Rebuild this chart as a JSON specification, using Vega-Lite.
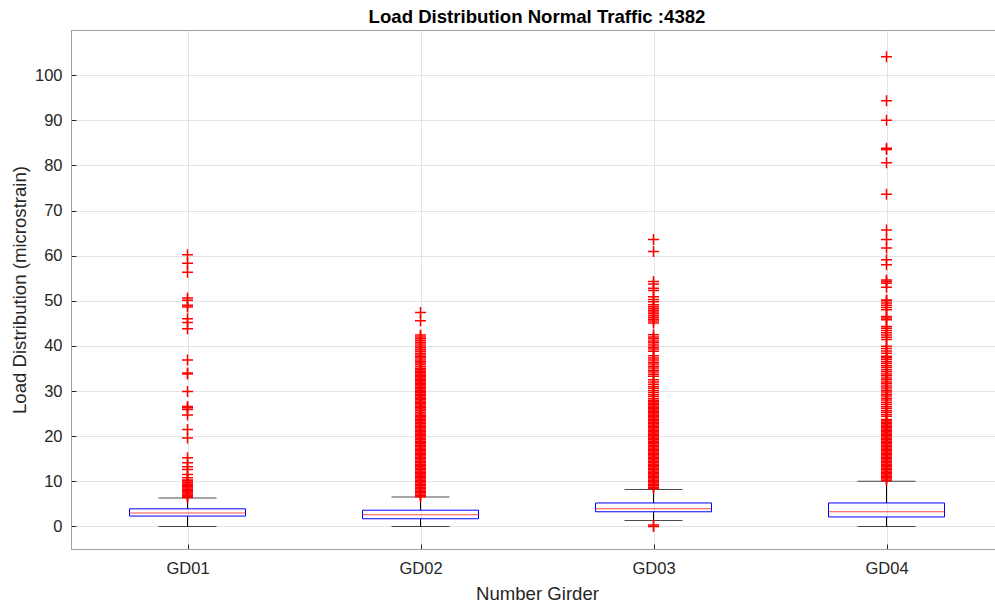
{
  "$schema": "https://vega.github.io/schema/vega-lite/v6.json",
  "autosize": "none",
  "width": 932,
  "height": 519,
  "padding": {"left": 71, "top": 30, "right": 0, "bottom": 55},
  "background": "white",
  "title": {"text": "Load Distribution Normal Traffic :4382", "fontSize": 18.6, "font": "Liberation Sans", "fontWeight": "bold", "color": "#000000", "anchor": "middle", "offset": 3},
  "config": {
    "view": {"stroke": "#a0a0a0", "strokeWidth": 1},
    "axis": {"labelFont": "Liberation Sans", "titleFont": "Liberation Sans", "labelColor": "#262626", "titleColor": "#262626", "labelFontSize": 16.5, "titleFontSize": 18.6, "titleFontWeight": "normal", "gridColor": "#e3e3e3", "gridWidth": 1, "domainColor": "#a0a0a0", "tickColor": "#262626", "tickSize": -5}
  },
  "datasets": {
    "boxes": [
      {"girder": "GD01", "low": 0.0, "q1": 2.3, "median": 3.0, "q3": 3.9, "high": 6.3},
      {"girder": "GD02", "low": 0.0, "q1": 1.7, "median": 2.6, "q3": 3.6, "high": 6.5},
      {"girder": "GD03", "low": 1.3, "q1": 3.25, "median": 3.9, "q3": 5.2, "high": 8.2},
      {"girder": "GD04", "low": 0.0, "q1": 2.1, "median": 3.25, "q3": 5.2, "high": 10.0}
    ],
    "outliers": [
      {"girder": "GD01", "value": 6.4}, {"girder": "GD01", "value": 6.6}, {"girder": "GD01", "value": 6.9}, {"girder": "GD01", "value": 7.2}, {"girder": "GD01", "value": 7.4}, {"girder": "GD01", "value": 7.7}, {"girder": "GD01", "value": 8.0}, {"girder": "GD01", "value": 8.2}, {"girder": "GD01", "value": 8.5}, {"girder": "GD01", "value": 8.8}, {"girder": "GD01", "value": 9.0}, {"girder": "GD01", "value": 9.3}, {"girder": "GD01", "value": 9.6}, {"girder": "GD01", "value": 9.8}, {"girder": "GD01", "value": 10.1}, {"girder": "GD01", "value": 10.3},
      {"girder": "GD01", "value": 10.8}, {"girder": "GD01", "value": 11.5}, {"girder": "GD01", "value": 12.6}, {"girder": "GD01", "value": 13.2}, {"girder": "GD01", "value": 14.1}, {"girder": "GD01", "value": 15.2}, {"girder": "GD01", "value": 19.6}, {"girder": "GD01", "value": 21.5}, {"girder": "GD01", "value": 24.7}, {"girder": "GD01", "value": 25.9}, {"girder": "GD01", "value": 26.3}, {"girder": "GD01", "value": 26.6}, {"girder": "GD01", "value": 29.9}, {"girder": "GD01", "value": 33.8}, {"girder": "GD01", "value": 34.0}, {"girder": "GD01", "value": 36.9}, {"girder": "GD01", "value": 43.8}, {"girder": "GD01", "value": 45.2}, {"girder": "GD01", "value": 46.0}, {"girder": "GD01", "value": 48.6}, {"girder": "GD01", "value": 49.0}, {"girder": "GD01", "value": 50.1}, {"girder": "GD01", "value": 50.6}, {"girder": "GD01", "value": 56.3}, {"girder": "GD01", "value": 58.3}, {"girder": "GD01", "value": 60.2},

      {"girder": "GD02", "value": 6.6}, {"girder": "GD02", "value": 6.9}, {"girder": "GD02", "value": 7.2}, {"girder": "GD02", "value": 7.5}, {"girder": "GD02", "value": 7.8}, {"girder": "GD02", "value": 8.1}, {"girder": "GD02", "value": 8.4}, {"girder": "GD02", "value": 8.7}, {"girder": "GD02", "value": 9.0}, {"girder": "GD02", "value": 9.3}, {"girder": "GD02", "value": 9.6}, {"girder": "GD02", "value": 9.9}, {"girder": "GD02", "value": 10.2}, {"girder": "GD02", "value": 10.5}, {"girder": "GD02", "value": 10.8}, {"girder": "GD02", "value": 11.1}, {"girder": "GD02", "value": 11.4}, {"girder": "GD02", "value": 11.7}, {"girder": "GD02", "value": 12.0}, {"girder": "GD02", "value": 12.3}, {"girder": "GD02", "value": 12.6}, {"girder": "GD02", "value": 12.9}, {"girder": "GD02", "value": 13.2}, {"girder": "GD02", "value": 13.5}, {"girder": "GD02", "value": 13.8}, {"girder": "GD02", "value": 14.1}, {"girder": "GD02", "value": 14.4}, {"girder": "GD02", "value": 14.7}, {"girder": "GD02", "value": 15.0}, {"girder": "GD02", "value": 15.3}, {"girder": "GD02", "value": 15.6}, {"girder": "GD02", "value": 15.9}, {"girder": "GD02", "value": 16.2}, {"girder": "GD02", "value": 16.5}, {"girder": "GD02", "value": 16.8}, {"girder": "GD02", "value": 17.1}, {"girder": "GD02", "value": 17.4}, {"girder": "GD02", "value": 17.7}, {"girder": "GD02", "value": 18.0}, {"girder": "GD02", "value": 18.3}, {"girder": "GD02", "value": 18.6}, {"girder": "GD02", "value": 18.9}, {"girder": "GD02", "value": 19.2}, {"girder": "GD02", "value": 19.5}, {"girder": "GD02", "value": 19.8}, {"girder": "GD02", "value": 20.1}, {"girder": "GD02", "value": 20.4}, {"girder": "GD02", "value": 20.7}, {"girder": "GD02", "value": 21.0}, {"girder": "GD02", "value": 21.3}, {"girder": "GD02", "value": 21.6}, {"girder": "GD02", "value": 21.9}, {"girder": "GD02", "value": 22.2}, {"girder": "GD02", "value": 22.5}, {"girder": "GD02", "value": 22.8}, {"girder": "GD02", "value": 23.1}, {"girder": "GD02", "value": 23.4}, {"girder": "GD02", "value": 23.7}, {"girder": "GD02", "value": 24.0}, {"girder": "GD02", "value": 24.3}, {"girder": "GD02", "value": 24.6}, {"girder": "GD02", "value": 24.9}, {"girder": "GD02", "value": 25.3}, {"girder": "GD02", "value": 25.7}, {"girder": "GD02", "value": 26.0}, {"girder": "GD02", "value": 26.3}, {"girder": "GD02", "value": 26.6}, {"girder": "GD02", "value": 26.9}, {"girder": "GD02", "value": 27.2}, {"girder": "GD02", "value": 27.5}, {"girder": "GD02", "value": 27.8}, {"girder": "GD02", "value": 28.1}, {"girder": "GD02", "value": 28.4}, {"girder": "GD02", "value": 28.7}, {"girder": "GD02", "value": 29.0}, {"girder": "GD02", "value": 29.3}, {"girder": "GD02", "value": 29.6}, {"girder": "GD02", "value": 29.9}, {"girder": "GD02", "value": 30.2}, {"girder": "GD02", "value": 30.5}, {"girder": "GD02", "value": 30.8}, {"girder": "GD02", "value": 31.1}, {"girder": "GD02", "value": 31.4}, {"girder": "GD02", "value": 31.7}, {"girder": "GD02", "value": 32.0}, {"girder": "GD02", "value": 32.3}, {"girder": "GD02", "value": 32.6}, {"girder": "GD02", "value": 32.9}, {"girder": "GD02", "value": 33.2}, {"girder": "GD02", "value": 33.5}, {"girder": "GD02", "value": 33.8}, {"girder": "GD02", "value": 34.1}, {"girder": "GD02", "value": 34.4}, {"girder": "GD02", "value": 34.7}, {"girder": "GD02", "value": 35.0}, {"girder": "GD02", "value": 35.4}, {"girder": "GD02", "value": 35.8}, {"girder": "GD02", "value": 36.2}, {"girder": "GD02", "value": 36.5}, {"girder": "GD02", "value": 36.9}, {"girder": "GD02", "value": 37.3}, {"girder": "GD02", "value": 37.6}, {"girder": "GD02", "value": 38.0}, {"girder": "GD02", "value": 38.4}, {"girder": "GD02", "value": 38.8}, {"girder": "GD02", "value": 39.2}, {"girder": "GD02", "value": 39.6}, {"girder": "GD02", "value": 40.0}, {"girder": "GD02", "value": 40.4}, {"girder": "GD02", "value": 40.8}, {"girder": "GD02", "value": 41.2}, {"girder": "GD02", "value": 41.6}, {"girder": "GD02", "value": 42.0}, {"girder": "GD02", "value": 42.4}, {"girder": "GD02", "value": 45.6}, {"girder": "GD02", "value": 47.4},

      {"girder": "GD03", "value": 0.0}, {"girder": "GD03", "value": 0.3},
      {"girder": "GD03", "value": 8.4}, {"girder": "GD03", "value": 8.7}, {"girder": "GD03", "value": 9.0}, {"girder": "GD03", "value": 9.3}, {"girder": "GD03", "value": 9.6}, {"girder": "GD03", "value": 9.9}, {"girder": "GD03", "value": 10.2}, {"girder": "GD03", "value": 10.5}, {"girder": "GD03", "value": 10.8}, {"girder": "GD03", "value": 11.1}, {"girder": "GD03", "value": 11.4}, {"girder": "GD03", "value": 11.7}, {"girder": "GD03", "value": 12.0}, {"girder": "GD03", "value": 12.3}, {"girder": "GD03", "value": 12.6}, {"girder": "GD03", "value": 12.9}, {"girder": "GD03", "value": 13.2}, {"girder": "GD03", "value": 13.5}, {"girder": "GD03", "value": 13.8}, {"girder": "GD03", "value": 14.1}, {"girder": "GD03", "value": 14.4}, {"girder": "GD03", "value": 14.7}, {"girder": "GD03", "value": 15.0}, {"girder": "GD03", "value": 15.3}, {"girder": "GD03", "value": 15.6}, {"girder": "GD03", "value": 15.9}, {"girder": "GD03", "value": 16.2}, {"girder": "GD03", "value": 16.5}, {"girder": "GD03", "value": 16.8}, {"girder": "GD03", "value": 17.1}, {"girder": "GD03", "value": 17.4}, {"girder": "GD03", "value": 17.7}, {"girder": "GD03", "value": 18.0}, {"girder": "GD03", "value": 18.3}, {"girder": "GD03", "value": 18.6}, {"girder": "GD03", "value": 18.9}, {"girder": "GD03", "value": 19.2}, {"girder": "GD03", "value": 19.5}, {"girder": "GD03", "value": 19.8}, {"girder": "GD03", "value": 20.1}, {"girder": "GD03", "value": 20.4}, {"girder": "GD03", "value": 20.7}, {"girder": "GD03", "value": 21.0}, {"girder": "GD03", "value": 21.3}, {"girder": "GD03", "value": 21.6}, {"girder": "GD03", "value": 21.9}, {"girder": "GD03", "value": 22.2}, {"girder": "GD03", "value": 22.5}, {"girder": "GD03", "value": 22.8}, {"girder": "GD03", "value": 23.1}, {"girder": "GD03", "value": 23.4}, {"girder": "GD03", "value": 23.7}, {"girder": "GD03", "value": 24.0}, {"girder": "GD03", "value": 24.3}, {"girder": "GD03", "value": 24.6}, {"girder": "GD03", "value": 24.9}, {"girder": "GD03", "value": 25.2}, {"girder": "GD03", "value": 25.5}, {"girder": "GD03", "value": 25.8}, {"girder": "GD03", "value": 26.1}, {"girder": "GD03", "value": 26.4}, {"girder": "GD03", "value": 26.7}, {"girder": "GD03", "value": 27.0}, {"girder": "GD03", "value": 27.3}, {"girder": "GD03", "value": 27.6}, {"girder": "GD03", "value": 27.9}, {"girder": "GD03", "value": 28.3},
      {"girder": "GD03", "value": 28.8}, {"girder": "GD03", "value": 29.2}, {"girder": "GD03", "value": 29.7}, {"girder": "GD03", "value": 30.1}, {"girder": "GD03", "value": 30.6}, {"girder": "GD03", "value": 31.0}, {"girder": "GD03", "value": 31.5}, {"girder": "GD03", "value": 32.0}, {"girder": "GD03", "value": 32.5},
      {"girder": "GD03", "value": 33.3}, {"girder": "GD03", "value": 33.7}, {"girder": "GD03", "value": 34.2}, {"girder": "GD03", "value": 34.6}, {"girder": "GD03", "value": 35.1}, {"girder": "GD03", "value": 35.5}, {"girder": "GD03", "value": 36.0}, {"girder": "GD03", "value": 36.4}, {"girder": "GD03", "value": 36.9}, {"girder": "GD03", "value": 37.3}, {"girder": "GD03", "value": 37.8},
      {"girder": "GD03", "value": 38.8}, {"girder": "GD03", "value": 39.3}, {"girder": "GD03", "value": 39.7}, {"girder": "GD03", "value": 40.2}, {"girder": "GD03", "value": 40.7}, {"girder": "GD03", "value": 41.1}, {"girder": "GD03", "value": 41.6}, {"girder": "GD03", "value": 42.0}, {"girder": "GD03", "value": 42.5},
      {"girder": "GD03", "value": 45.1}, {"girder": "GD03", "value": 45.5}, {"girder": "GD03", "value": 45.9}, {"girder": "GD03", "value": 46.3}, {"girder": "GD03", "value": 46.7}, {"girder": "GD03", "value": 47.1}, {"girder": "GD03", "value": 47.5}, {"girder": "GD03", "value": 47.9}, {"girder": "GD03", "value": 48.3}, {"girder": "GD03", "value": 48.7}, {"girder": "GD03", "value": 49.1}, {"girder": "GD03", "value": 49.8}, {"girder": "GD03", "value": 50.3}, {"girder": "GD03", "value": 50.9}, {"girder": "GD03", "value": 52.3}, {"girder": "GD03", "value": 52.8}, {"girder": "GD03", "value": 53.7}, {"girder": "GD03", "value": 54.3}, {"girder": "GD03", "value": 60.9}, {"girder": "GD03", "value": 63.6},

      {"girder": "GD04", "value": 10.2}, {"girder": "GD04", "value": 10.5}, {"girder": "GD04", "value": 10.8}, {"girder": "GD04", "value": 11.1}, {"girder": "GD04", "value": 11.4}, {"girder": "GD04", "value": 11.7}, {"girder": "GD04", "value": 12.0}, {"girder": "GD04", "value": 12.3}, {"girder": "GD04", "value": 12.6}, {"girder": "GD04", "value": 12.9}, {"girder": "GD04", "value": 13.2}, {"girder": "GD04", "value": 13.5}, {"girder": "GD04", "value": 13.8}, {"girder": "GD04", "value": 14.1}, {"girder": "GD04", "value": 14.4}, {"girder": "GD04", "value": 14.7}, {"girder": "GD04", "value": 15.0}, {"girder": "GD04", "value": 15.3}, {"girder": "GD04", "value": 15.6}, {"girder": "GD04", "value": 15.9}, {"girder": "GD04", "value": 16.2}, {"girder": "GD04", "value": 16.5}, {"girder": "GD04", "value": 16.8}, {"girder": "GD04", "value": 17.1}, {"girder": "GD04", "value": 17.4}, {"girder": "GD04", "value": 17.7}, {"girder": "GD04", "value": 18.0}, {"girder": "GD04", "value": 18.3}, {"girder": "GD04", "value": 18.6}, {"girder": "GD04", "value": 18.9}, {"girder": "GD04", "value": 19.2}, {"girder": "GD04", "value": 19.5}, {"girder": "GD04", "value": 19.8}, {"girder": "GD04", "value": 20.1}, {"girder": "GD04", "value": 20.4}, {"girder": "GD04", "value": 20.7}, {"girder": "GD04", "value": 21.0}, {"girder": "GD04", "value": 21.3}, {"girder": "GD04", "value": 21.6}, {"girder": "GD04", "value": 21.9}, {"girder": "GD04", "value": 22.2}, {"girder": "GD04", "value": 22.5}, {"girder": "GD04", "value": 22.8}, {"girder": "GD04", "value": 23.1}, {"girder": "GD04", "value": 23.4}, {"girder": "GD04", "value": 23.7},
      {"girder": "GD04", "value": 24.4}, {"girder": "GD04", "value": 24.8}, {"girder": "GD04", "value": 25.3}, {"girder": "GD04", "value": 25.7}, {"girder": "GD04", "value": 26.2}, {"girder": "GD04", "value": 26.6}, {"girder": "GD04", "value": 27.1}, {"girder": "GD04", "value": 27.5}, {"girder": "GD04", "value": 28.0}, {"girder": "GD04", "value": 28.4}, {"girder": "GD04", "value": 28.9}, {"girder": "GD04", "value": 29.3}, {"girder": "GD04", "value": 29.8}, {"girder": "GD04", "value": 30.2}, {"girder": "GD04", "value": 30.7}, {"girder": "GD04", "value": 31.1}, {"girder": "GD04", "value": 31.6}, {"girder": "GD04", "value": 32.0}, {"girder": "GD04", "value": 32.5}, {"girder": "GD04", "value": 32.9}, {"girder": "GD04", "value": 33.4}, {"girder": "GD04", "value": 33.8}, {"girder": "GD04", "value": 34.3}, {"girder": "GD04", "value": 34.7}, {"girder": "GD04", "value": 35.2}, {"girder": "GD04", "value": 35.6}, {"girder": "GD04", "value": 36.1}, {"girder": "GD04", "value": 36.5}, {"girder": "GD04", "value": 37.0}, {"girder": "GD04", "value": 37.4}, {"girder": "GD04", "value": 37.7},
      {"girder": "GD04", "value": 38.4}, {"girder": "GD04", "value": 38.9}, {"girder": "GD04", "value": 39.4}, {"girder": "GD04", "value": 39.9}, {"girder": "GD04", "value": 41.4}, {"girder": "GD04", "value": 41.9}, {"girder": "GD04", "value": 42.4}, {"girder": "GD04", "value": 42.9}, {"girder": "GD04", "value": 43.4}, {"girder": "GD04", "value": 43.9}, {"girder": "GD04", "value": 44.3}, {"girder": "GD04", "value": 45.8}, {"girder": "GD04", "value": 46.2}, {"girder": "GD04", "value": 46.5}, {"girder": "GD04", "value": 48.0}, {"girder": "GD04", "value": 48.5}, {"girder": "GD04", "value": 49.0}, {"girder": "GD04", "value": 49.5}, {"girder": "GD04", "value": 50.0}, {"girder": "GD04", "value": 50.2}, {"girder": "GD04", "value": 53.0}, {"girder": "GD04", "value": 53.9}, {"girder": "GD04", "value": 54.3}, {"girder": "GD04", "value": 54.6}, {"girder": "GD04", "value": 58.0}, {"girder": "GD04", "value": 59.1}, {"girder": "GD04", "value": 61.7}, {"girder": "GD04", "value": 63.6}, {"girder": "GD04", "value": 65.7}, {"girder": "GD04", "value": 73.6}, {"girder": "GD04", "value": 80.6}, {"girder": "GD04", "value": 83.5}, {"girder": "GD04", "value": 83.8}, {"girder": "GD04", "value": 90.0}, {"girder": "GD04", "value": 94.3}, {"girder": "GD04", "value": 104.1}
    ]
  },
  "layer": [
    {
      "data": {"name": "boxes"},
      "mark": {"type": "rule", "color": "#000000", "strokeWidth": 1},
      "encoding": {
        "x": {"field": "girder", "type": "nominal", "scale": {"type": "point", "padding": 0.5, "domain": ["GD01", "GD02", "GD03", "GD04"]},
              "axis": {"title": "Number Girder", "labelAngle": 0, "labelPadding": 16, "titlePadding": 8, "grid": true}},
        "y": {"field": "q3", "type": "quantitative", "scale": {"domain": [-5, 110], "nice": false, "zero": false},
              "axis": {"title": "Load Distribution (microstrain)", "values": [0, 10, 20, 30, 40, 50, 60, 70, 80, 90, 100], "labelPadding": 14, "titlePadding": 5, "grid": true}},
        "y2": {"field": "high"}
      }
    },
    {
      "data": {"name": "boxes"},
      "mark": {"type": "rule", "color": "#000000", "strokeWidth": 1},
      "encoding": {
        "x": {"field": "girder", "type": "nominal"},
        "y": {"field": "low", "type": "quantitative"},
        "y2": {"field": "q1"}
      }
    },
    {
      "data": {"name": "boxes"},
      "mark": {"type": "tick", "color": "#000000", "size": 58, "thickness": 1},
      "encoding": {
        "x": {"field": "girder", "type": "nominal"},
        "y": {"field": "high", "type": "quantitative"}
      }
    },
    {
      "data": {"name": "boxes"},
      "mark": {"type": "tick", "color": "#000000", "size": 58, "thickness": 1},
      "encoding": {
        "x": {"field": "girder", "type": "nominal"},
        "y": {"field": "low", "type": "quantitative"}
      }
    },
    {
      "data": {"name": "boxes"},
      "mark": {"type": "bar", "size": 116, "fill": "transparent", "stroke": "#0000ff", "strokeWidth": 1},
      "encoding": {
        "x": {"field": "girder", "type": "nominal"},
        "y": {"field": "q1", "type": "quantitative"},
        "y2": {"field": "q3"}
      }
    },
    {
      "data": {"name": "boxes"},
      "mark": {"type": "tick", "color": "#ff0000", "size": 116, "thickness": 1},
      "encoding": {
        "x": {"field": "girder", "type": "nominal"},
        "y": {"field": "median", "type": "quantitative"}
      }
    },
    {
      "data": {"name": "outliers"},
      "mark": {"type": "point", "shape": "M-1,0H1M0,-1V1", "size": 121, "filled": false, "color": "#ff0000", "stroke": "#ff0000", "strokeWidth": 1.5, "opacity": 1, "strokeOpacity": 1},
      "encoding": {
        "x": {"field": "girder", "type": "nominal"},
        "y": {"field": "value", "type": "quantitative"}
      }
    }
  ]
}
